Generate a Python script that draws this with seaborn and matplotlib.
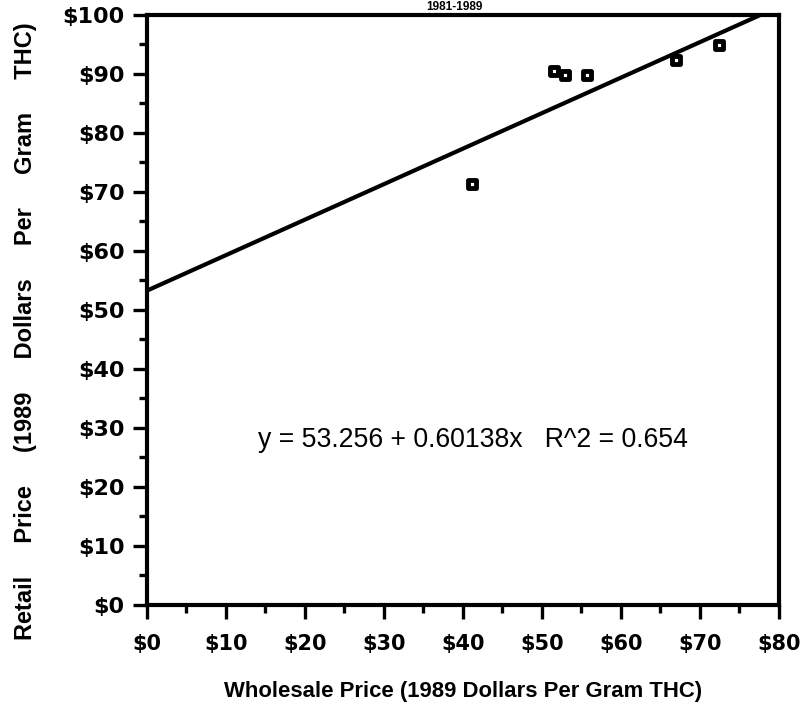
import numpy as np
import pandas as pd
import matplotlib
matplotlib.use("Agg")
import matplotlib.pyplot as plt
from matplotlib.ticker import MultipleLocator, FuncFormatter
import seaborn as sns

# Wholesale vs. retail price per gram of THC, 1989 dollars
wholesale = [41.1, 51.6, 53.0, 55.7, 67.0, 72.5]
retail = [71.3, 90.5, 89.8, 89.8, 92.3, 94.9]

intercept = 53.256
slope = 0.60138
r_squared = 0.654

title = "1981-1989"
x_label = "Wholesale Price (1989 Dollars Per Gram THC)"
y_words = ["Retail", "Price", "(1989", "Dollars", "Per", "Gram", "THC)"]

sns.set_theme(style="white")
plt.rcParams["font.family"] = ["Liberation Sans", "DejaVu Sans"]

df = pd.DataFrame({"wholesale": wholesale, "retail": retail})

fig = plt.figure(figsize=(8.12, 7.05), dpi=100)
ax = fig.add_axes([0.181, 0.142, 0.778, 0.837])

# fitted regression line
fit_x = np.array([0, 80])
fit_y = intercept + slope * fit_x
ax.plot(fit_x, fit_y, color="black", lw=3, zorder=2, solid_capstyle="butt")

sns.scatterplot(data=df, x="wholesale", y="retail", ax=ax, marker="s",
                s=34, color="white", edgecolor="black", linewidth=3.5,
                zorder=3, legend=False)

ax.set_xlim(0, 80)
ax.set_ylim(0, 100)

ax.xaxis.set_major_locator(MultipleLocator(10))
ax.xaxis.set_minor_locator(MultipleLocator(5))
ax.yaxis.set_major_locator(MultipleLocator(10))
ax.yaxis.set_minor_locator(MultipleLocator(5))
ax.xaxis.set_major_formatter(FuncFormatter(lambda v, p: f"${v:.0f}"))
ax.yaxis.set_major_formatter(FuncFormatter(lambda v, p: f"${v:.0f}"))

ax.tick_params(axis="both", which="both", bottom=True, left=True,
               top=False, right=False, direction="out", color="black")
ax.tick_params(axis="both", which="major", length=10, width=2.4,
               labelcolor="black")
ax.tick_params(axis="x", which="major", labelsize=15, pad=11)
ax.tick_params(axis="y", which="major", labelsize=16, pad=6)
ax.tick_params(axis="both", which="minor", length=6, width=2.4)
for lbl in ax.get_xticklabels() + ax.get_yticklabels():
    lbl.set_fontweight("bold")
    lbl.set_family("DejaVu Sans")

for side in ["left", "bottom", "right", "top"]:
    ax.spines[side].set_visible(True)
    ax.spines[side].set_color("black")
    ax.spines[side].set_linewidth(3)

ax.set_xlabel(x_label, fontsize=15.9, fontweight="bold", color="black",
              va="center")
ax.xaxis.set_label_coords(0.5, -0.147)
ax.set_ylabel("     ".join(y_words), fontsize=17, fontweight="bold",
              color="black", va="center")
ax.yaxis.set_label_coords(-0.193, 0.463)

ax.text(41.3, 28.0, f"y = {intercept} + {slope}x   R^2 = {r_squared}",
        ha="center", va="center", fontsize=19.2, color="black")

fig.text(0.56, 1.0 - 1 / 705, title, ha="center", va="top", fontsize=8.5,
         fontweight="bold", color="black")

fig.savefig("out.png", dpi=100, facecolor="white")
